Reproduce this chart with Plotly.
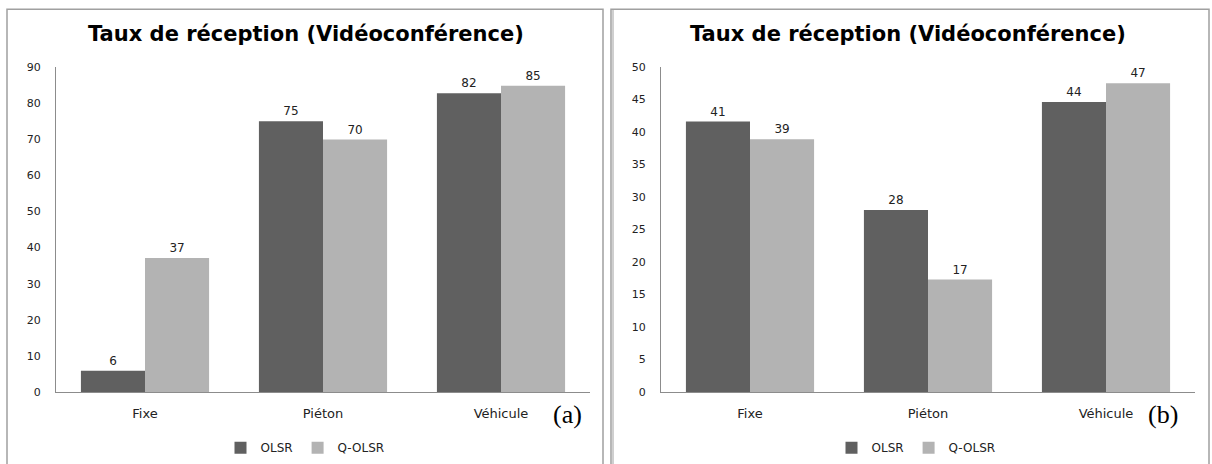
import plotly.graph_objects as go

categories = ["Fixe", "Piéton", "Véhicule"]
series_names = ["OLSR", "Q-OLSR"]

# Panel (a)
a_olsr = [5.9, 75.0, 82.7]
a_qolsr = [37.1, 69.9, 84.8]
a_olsr_labels = ["6", "75", "82"]
a_qolsr_labels = ["37", "70", "85"]
a_ticks = [0, 10, 20, 30, 40, 50, 60, 70, 80, 90]

# Panel (b)
b_olsr = [41.6, 28.0, 44.6]
b_qolsr = [38.9, 17.3, 47.5]
b_olsr_labels = ["41", "28", "44"]
b_qolsr_labels = ["39", "17", "47"]
b_ticks = [0, 5, 10, 15, 20, 25, 30, 35, 40, 45, 50]

title_text = "Taux de réception (Vidéoconférence)"
panel_tags = ["(a)", "(b)"]

DARK = "#606060"
LIGHT = "#b3b3b3"
FONT = "DejaVu Sans"

W, H = 1212, 464
# empirical vertical correction of the rendered layout
C, S = 193.0, 0.975


def px(x):
    return x / W


def py(y):
    y2 = C + (y - C) / S
    return (H - y2) / H


fig = go.Figure()


def add_panel(vals1, vals2, lab1, lab2, xa, ya, legend):
    for name, vals, labs, col in [(series_names[0], vals1, lab1, DARK),
                                  (series_names[1], vals2, lab2, LIGHT)]:
        fig.add_trace(go.Bar(
            x=categories, y=vals, name=name, text=labs,
            textposition="outside", cliponaxis=False,
            textfont=dict(family=FONT, size=12, color="#222222"),
            marker=dict(color=col, line=dict(width=0)),
            xaxis=xa, yaxis=ya, legend=legend,
        ))


add_panel(a_olsr, a_qolsr, a_olsr_labels, a_qolsr_labels, "x", "y", "legend")
add_panel(b_olsr, b_qolsr, b_olsr_labels, b_qolsr_labels, "x2", "y2", "legend2")

ydom = [py(392), py(66)]
xdom1 = [px(56), px(590)]
xdom2 = [px(661), px(1195)]

xcommon = dict(showline=True, linecolor="#8c8c8c", linewidth=1, ticks="",
               showgrid=False, zeroline=False,
               tickfont=dict(family=FONT, size=13, color="#222222"),
               ticklabelstandoff=9)
ycommon = dict(showline=True, linecolor="#8c8c8c", linewidth=1, ticks="",
               showgrid=False, zeroline=False,
               tickfont=dict(family=FONT, size=11, color="#222222"),
               ticklabelstandoff=12)

legend_common = dict(orientation="h", xanchor="center", yanchor="middle",
                     font=dict(family=FONT, size=12, color="#222222"),
                     bgcolor="rgba(0,0,0,0)", itemwidth=30)

fig.update_layout(
    width=W, height=H,
    margin=dict(l=0, r=0, t=0, b=0),
    paper_bgcolor="white", plot_bgcolor="white",
    barmode="group", bargap=0.28, bargroupgap=0,
    xaxis=dict(domain=xdom1, anchor="y", **xcommon),
    yaxis=dict(domain=ydom, anchor="x", range=[0, 90], tickvals=a_ticks, **ycommon),
    xaxis2=dict(domain=xdom2, anchor="y2", **xcommon),
    yaxis2=dict(domain=ydom, anchor="x2", range=[0, 50], tickvals=b_ticks, **ycommon),
    legend=dict(x=px(305), y=py(448), **legend_common),
    legend2=dict(x=px(916), y=py(448), **legend_common),
    showlegend=True,
)

# Titles
for cx in [306, 908]:
    fig.add_annotation(text="<b>%s</b>" % title_text, x=px(cx), y=py(33),
                       xref="paper", yref="paper", showarrow=False,
                       xanchor="center", yanchor="middle",
                       font=dict(family=FONT, size=21, color="#000000"))

# Panel tags
for tag, cx in zip(panel_tags, [567, 1163]):
    fig.add_annotation(text=tag, x=px(cx), y=py(415), xref="paper", yref="paper",
                       showarrow=False, xanchor="center", yanchor="middle",
                       font=dict(family="Liberation Serif", size=26, color="#000000"))

# Panel frames
frame = dict(type="rect", xref="paper", yref="paper",
             line=dict(color="#a0a0a0", width=1.5), fillcolor="rgba(0,0,0,0)")
fig.add_shape(x0=px(7), x1=px(603), y0=-0.05, y1=py(8), **frame)
fig.add_shape(x0=px(611), x1=px(1209), y0=-0.05, y1=py(8), **frame)
fig.add_shape(type="line", xref="paper", yref="paper", x0=px(613), x1=px(613),
              y0=-0.05, y1=py(8), line=dict(color="#a0a0a0", width=1))

# remove the default page margin so the figure fills the window exactly
fig.write_html("out.html", config={"displayModeBar": False},
               post_script="document.body.style.margin='0';document.body.style.overflow='hidden';")
